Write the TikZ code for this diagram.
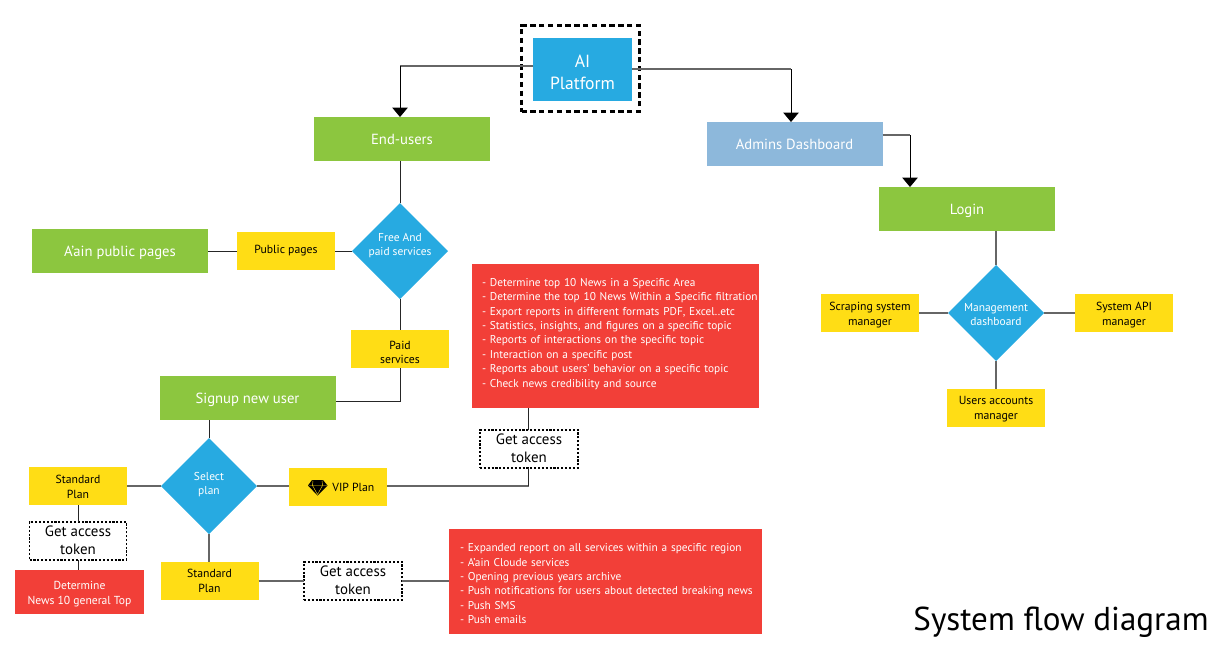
\documentclass[tikz,border=0pt]{standalone}
\usepackage{fontspec}
\setmainfont{PT Sans}
\usetikzlibrary{shapes.geometric,arrows.meta}
\definecolor{cgreen}{HTML}{8CC63F}
\definecolor{cblue}{HTML}{27AAE1}
\definecolor{cpale}{HTML}{8DB8DB}
\definecolor{cyellow}{HTML}{FFDD15}
\definecolor{cred}{HTML}{F23F38}
\definecolor{cline}{HTML}{666666}
\newcommand{\fs}[2]{\fontsize{#1}{#2}\selectfont}
\tikzset{
 boxbase/.style={rectangle,inner sep=0pt,outer sep=0pt,align=center},
 greenbox/.style={boxbase,fill=cgreen,text=white,minimum width=176*0.75pt,minimum height=44*0.75pt,font=\fs{11}{13},text height=7.5pt,text depth=0pt},
 bluebox/.style={boxbase,fill=cblue,text=white,minimum width=99*0.75pt,minimum height=63*0.75pt,font=\fs{13.2}{17}},
 palebox/.style={greenbox,fill=cpale},
 yellowbox/.style={boxbase,fill=cyellow,text=black,minimum width=98*0.75pt,minimum height=38*0.75pt,font=\fs{8.8}{10.8}},
 tokenbox/.style={boxbase,draw=black,line width=1pt,dash pattern=on 1.6pt off 1.3pt,fill=white,minimum width=98*0.75pt,minimum height=38*0.75pt,font=\fs{11.2}{13.4},execute at end node=\rule[-1.5pt]{0pt}{1pt}},
 redbox/.style={boxbase,fill=cred,text=white,font=\fs{8.5}{10.8}},
 gem/.style={diamond,aspect=1,inner sep=0pt,outer sep=0pt,fill=cblue,minimum width=96*0.75pt,minimum height=96*0.75pt},
 gemtext/.style={boxbase,text=white,font=\fs{8.6}{10.8}},
 link/.style={draw=cline,line width=0.8pt},
 dlink/.style={draw=black!85,line width=0.7pt},
 drop/.style={draw=black,line width=0.7pt,-{Triangle[width=11.5pt,length=7pt]}},
}
\begin{document}
\begin{tikzpicture}[x=0.75pt,y=-0.75pt]
\useasboundingbox (0,0) rectangle (1232,651);
% nodes
\node[boxbase,draw=black,line width=2.2pt,dash pattern=on 4pt off 2.6pt,minimum width=118*0.75pt,minimum height=86*0.75pt] (frame) at (580.5,68.5) {};
\node[bluebox] (ai) at (582.5,69.5) {\rule{0pt}{13.5pt}AI\\Platform};
\node[greenbox] (eu) at (402,139) {End-users};
\node[palebox] (adm) at (794.5,144) {Admins Dashboard};
\node[greenbox] (login) at (967,209) {Login};
\node[gem] (free) at (400,251) {};
\node[gemtext] (freet) at (400,245.8) {Free And\\paid services};
\node[gem] (mgmt) at (996,313) {};
\node[gemtext] (mgmtt) at (996,314.5) {Management\\dashboard};
\node[gem] (sel) at (209,486) {};
\node[gemtext] (selt) at (209,484.5) {Select\\plan};
\node[greenbox] (pub) at (120,251) {A’ain public pages};
\node[yellowbox] (pp) at (286,251) {Public pages};
\node[yellowbox] (paid) at (400,349) {\rule{0pt}{11.5pt}Paid\\services};
\node[greenbox] (sign) at (247.5,398) {Signup new user};
\node[yellowbox] (std1) at (78,486) {\rule{0pt}{7.8pt}Standard\\Plan};
\node[tokenbox,minimum width=97*0.75pt] (tok1) at (78,541) {Get access\\token};
\node[redbox,font=\fs{8.7}{11},minimum width=129*0.75pt,minimum height=44*0.75pt] (det) at (79.5,592) {\rule{0pt}{9pt}Determine\\News 10 general Top};
\node[yellowbox] (vip) at (338,487) {\hspace*{23pt}VIP Plan};
\node[yellowbox] (std2) at (209.5,581) {Standard\\Plan};
\node[tokenbox] (tok2) at (353,581) {Get access\\token};
\node[tokenbox] (tok3) at (529,449) {Get access\\token};
\node[redbox,minimum width=287*0.75pt,minimum height=144*0.75pt,text width=287*0.75pt,align=left] (r1) at (615.5,336) {\leftskip=7.5pt - Determine top 10 News in a Specific Area\\- Determine the top 10 News Within a Specific filtration\\- Export reports in different formats PDF, Excel..etc\\- Statistics, insights, and figures on a specific topic\\- Reports of interactions on the specific topic\\- Interaction on a specific post\\- Reports about users' behavior on a specific topic\\- Check news credibility and source\rule[-5pt]{0pt}{1pt}\par};
\node[redbox,minimum width=313*0.75pt,minimum height=105*0.75pt,text width=313*0.75pt,align=left] (r2) at (605.5,581.5) {\leftskip=8.25pt \rule{0pt}{9.5pt}- Expanded report on all services within a specific region\\- A’ain Cloude services\\- Opening previous years archive\\- Push notifications for users about detected breaking news\\- Push SMS\\- Push emails\par};
\node[yellowbox] (scr) at (870,313) {\rule{0pt}{9.3pt}Scraping system\\manager};
\node[yellowbox] (api) at (1124,313) {\rule{0pt}{9.3pt}System API\\manager};
\node[yellowbox] (usr) at (996,408) {\rule{0pt}{7.8pt}Users accounts\\manager};
\node[anchor=base east,inner sep=0pt,font=\fs{24.8}{30},text=black] (title) at (1209,630) {System flow diagram};
% gem icon
\fill[black] (312,480) -- (323,480) -- (327.5,485.5) -- (317.5,495.5) -- (308,485.5) -- cycle;
\draw[cyellow,line width=0.3pt] (308.5,485.5) -- (327,485.5) (313,480.5) -- (312.5,485.5) -- (317.5,494.5) -- (322.5,485.5) -- (322,480.5);
% free ends
\coordinate (c1) at (400,66);
\coordinate (c2) at (791,69);
\coordinate (c3) at (910,135);
\coordinate (c4) at (400,401);
\coordinate (c5) at (528.5,486);
% connectors
\draw[link] (ai.west |- c1) -- (c1);
\draw[drop] (c1) -- (eu.north -| c1);
\draw[link] (ai.east |- c2) -- (c2);
\draw[drop] (c2) -- (adm.north -| c2);
\draw[link] (adm.east |- c3) -- (c3);
\draw[drop] (c3) -- (login.north -| c3);
\draw[dlink] (eu.south -| free.north) -- (free.north);
\draw[dlink] (free.west) -- (pp.east);
\draw[dlink] (pp.west) -- (pub.east);
\draw[dlink] (free.south) -- (paid.north);
\draw[dlink] (paid.south) -- (c4) -- (sign.east |- c4);
\draw[dlink] (sign.south -| sel.north) -- (sel.north);
\draw[link] (sel.west) -- (std1.east);
\draw[link] (sel.east) -- (sel.east -| vip.west);
\draw[link] (vip.east |- c5) -- (c5);
\draw[dlink] (c5) -- (tok3.south -| c5);
\draw[dlink] (tok3.north -| c5) -- (r1.south -| c5);
\draw[link] (sel.south) -- (std2.north -| sel.south);
\draw[link] (std2.east) -- (tok2.west);
\draw[link] (tok2.east) -- (r2.west |- tok2);
\draw[dlink] (std1.south) -- (tok1.north);
\draw[dlink] (tok1.south) -- (det.north -| tok1);
\draw[link] (login.south -| mgmt.north) -- (mgmt.north);
\draw[link] (mgmt.west) -- (scr.east);
\draw[link] (mgmt.east) -- (api.west);
\draw[link] (mgmt.south) -- (usr.north);
\end{tikzpicture}
\end{document}
